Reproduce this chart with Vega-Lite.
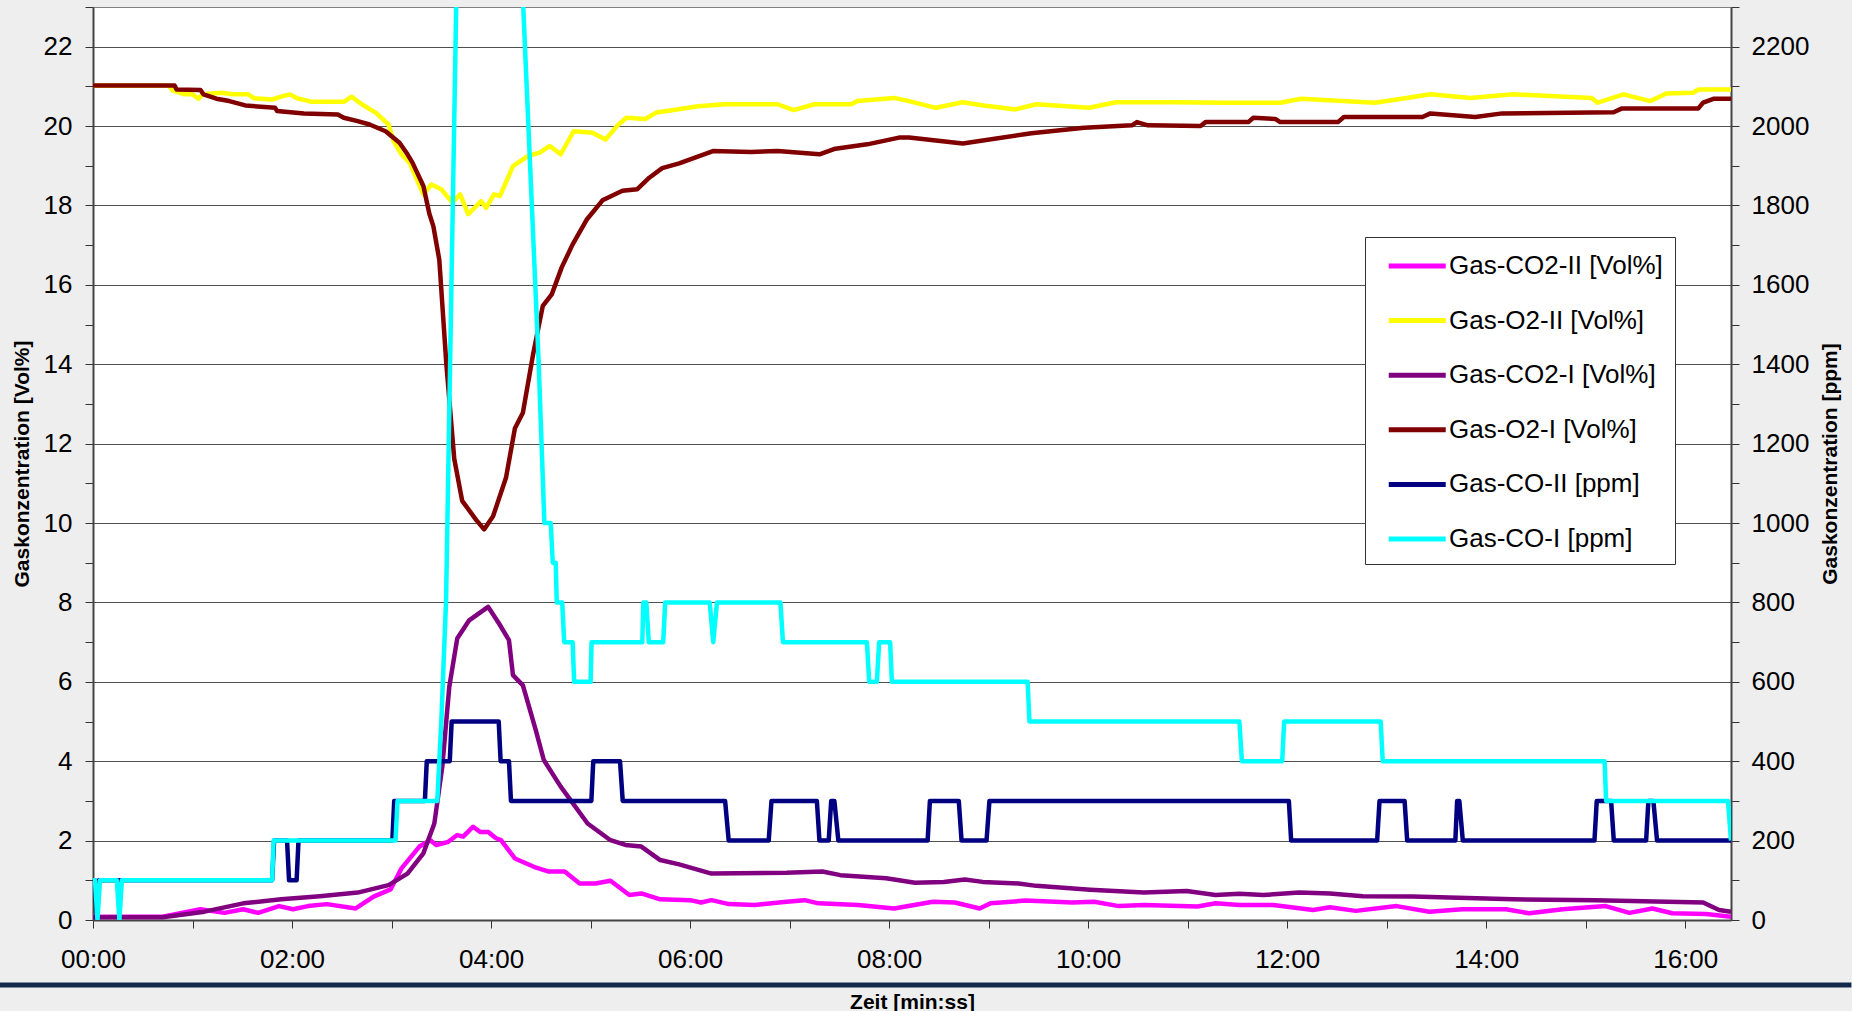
{
  "$schema": "https://vega.github.io/schema/vega-lite/v6.json",
  "width": 1638,
  "height": 913,
  "autosize": {"type": "none"},
  "padding": {"left": 93, "top": 7, "right": 121, "bottom": 91},
  "background": "#eeeeee",
  "config": {
    "font": "Liberation Sans",
    "view": {"fill": "white", "stroke": "#808080", "strokeWidth": 1},
    "axis": {"labelFont": "Liberation Sans", "titleFont": "Liberation Sans", "labelColor": "black", "titleColor": "black", "tickColor": "#333333", "domainColor": "#444444", "domainWidth": 2, "labelFontSize": 26, "titleFontSize": 21, "titleFontWeight": "bold", "labelOverlap": false, "labelBound": false}
  },
  "datasets": {
    "vol": [
      {"t":0,"s":"Gas-CO2-II [Vol%]","v":0.08},{"t":0.7,"s":"Gas-CO2-II [Vol%]","v":0.08},{"t":1.08,"s":"Gas-CO2-II [Vol%]","v":0.27},{"t":1.32,"s":"Gas-CO2-II [Vol%]","v":0.18},{"t":1.51,"s":"Gas-CO2-II [Vol%]","v":0.27},{"t":1.66,"s":"Gas-CO2-II [Vol%]","v":0.18},{"t":1.87,"s":"Gas-CO2-II [Vol%]","v":0.35},{"t":2.01,"s":"Gas-CO2-II [Vol%]","v":0.27},{"t":2.16,"s":"Gas-CO2-II [Vol%]","v":0.35},{"t":2.35,"s":"Gas-CO2-II [Vol%]","v":0.4},{"t":2.64,"s":"Gas-CO2-II [Vol%]","v":0.29},{"t":2.82,"s":"Gas-CO2-II [Vol%]","v":0.59},{"t":2.99,"s":"Gas-CO2-II [Vol%]","v":0.77},{"t":3.1,"s":"Gas-CO2-II [Vol%]","v":1.3},{"t":3.28,"s":"Gas-CO2-II [Vol%]","v":1.85},{"t":3.39,"s":"Gas-CO2-II [Vol%]","v":2.01},{"t":3.45,"s":"Gas-CO2-II [Vol%]","v":1.89},{"t":3.57,"s":"Gas-CO2-II [Vol%]","v":1.97},{"t":3.66,"s":"Gas-CO2-II [Vol%]","v":2.14},{"t":3.72,"s":"Gas-CO2-II [Vol%]","v":2.1},{"t":3.82,"s":"Gas-CO2-II [Vol%]","v":2.35},{"t":3.89,"s":"Gas-CO2-II [Vol%]","v":2.22},{"t":3.97,"s":"Gas-CO2-II [Vol%]","v":2.22},{"t":4.05,"s":"Gas-CO2-II [Vol%]","v":2.06},{"t":4.1,"s":"Gas-CO2-II [Vol%]","v":2.01},{"t":4.24,"s":"Gas-CO2-II [Vol%]","v":1.55},{"t":4.43,"s":"Gas-CO2-II [Vol%]","v":1.34},{"t":4.58,"s":"Gas-CO2-II [Vol%]","v":1.22},{"t":4.74,"s":"Gas-CO2-II [Vol%]","v":1.22},{"t":4.89,"s":"Gas-CO2-II [Vol%]","v":0.92},{"t":5.05,"s":"Gas-CO2-II [Vol%]","v":0.92},{"t":5.2,"s":"Gas-CO2-II [Vol%]","v":0.99},{"t":5.39,"s":"Gas-CO2-II [Vol%]","v":0.63},{"t":5.51,"s":"Gas-CO2-II [Vol%]","v":0.67},{"t":5.7,"s":"Gas-CO2-II [Vol%]","v":0.52},{"t":6.0,"s":"Gas-CO2-II [Vol%]","v":0.5},{"t":6.11,"s":"Gas-CO2-II [Vol%]","v":0.44},{"t":6.215,"s":"Gas-CO2-II [Vol%]","v":0.5},{"t":6.39,"s":"Gas-CO2-II [Vol%]","v":0.4},{"t":6.65,"s":"Gas-CO2-II [Vol%]","v":0.38},{"t":6.97,"s":"Gas-CO2-II [Vol%]","v":0.46},{"t":7.15,"s":"Gas-CO2-II [Vol%]","v":0.5},{"t":7.29,"s":"Gas-CO2-II [Vol%]","v":0.42},{"t":7.69,"s":"Gas-CO2-II [Vol%]","v":0.38},{"t":8.05,"s":"Gas-CO2-II [Vol%]","v":0.29},{"t":8.44,"s":"Gas-CO2-II [Vol%]","v":0.46},{"t":8.66,"s":"Gas-CO2-II [Vol%]","v":0.44},{"t":8.91,"s":"Gas-CO2-II [Vol%]","v":0.29},{"t":9.02,"s":"Gas-CO2-II [Vol%]","v":0.42},{"t":9.37,"s":"Gas-CO2-II [Vol%]","v":0.49},{"t":9.84,"s":"Gas-CO2-II [Vol%]","v":0.44},{"t":10.06,"s":"Gas-CO2-II [Vol%]","v":0.46},{"t":10.31,"s":"Gas-CO2-II [Vol%]","v":0.35},{"t":10.56,"s":"Gas-CO2-II [Vol%]","v":0.38},{"t":11.1,"s":"Gas-CO2-II [Vol%]","v":0.34},{"t":11.28,"s":"Gas-CO2-II [Vol%]","v":0.42},{"t":11.52,"s":"Gas-CO2-II [Vol%]","v":0.38},{"t":11.86,"s":"Gas-CO2-II [Vol%]","v":0.38},{"t":12.26,"s":"Gas-CO2-II [Vol%]","v":0.25},{"t":12.43,"s":"Gas-CO2-II [Vol%]","v":0.32},{"t":12.69,"s":"Gas-CO2-II [Vol%]","v":0.23},{"t":13.1,"s":"Gas-CO2-II [Vol%]","v":0.35},{"t":13.43,"s":"Gas-CO2-II [Vol%]","v":0.21},{"t":13.76,"s":"Gas-CO2-II [Vol%]","v":0.27},{"t":14.2,"s":"Gas-CO2-II [Vol%]","v":0.27},{"t":14.43,"s":"Gas-CO2-II [Vol%]","v":0.17},{"t":14.77,"s":"Gas-CO2-II [Vol%]","v":0.27},{"t":15.2,"s":"Gas-CO2-II [Vol%]","v":0.35},{"t":15.44,"s":"Gas-CO2-II [Vol%]","v":0.18},{"t":15.67,"s":"Gas-CO2-II [Vol%]","v":0.29},{"t":15.87,"s":"Gas-CO2-II [Vol%]","v":0.17},{"t":16.21,"s":"Gas-CO2-II [Vol%]","v":0.15},{"t":16.46,"s":"Gas-CO2-II [Vol%]","v":0.08},

      {"t":0,"s":"Gas-O2-II [Vol%]","v":21.02},{"t":0.76,"s":"Gas-O2-II [Vol%]","v":21.02},{"t":0.8,"s":"Gas-O2-II [Vol%]","v":20.9},{"t":0.92,"s":"Gas-O2-II [Vol%]","v":20.8},{"t":1.0,"s":"Gas-O2-II [Vol%]","v":20.8},{"t":1.06,"s":"Gas-O2-II [Vol%]","v":20.69},{"t":1.1,"s":"Gas-O2-II [Vol%]","v":20.8},{"t":1.29,"s":"Gas-O2-II [Vol%]","v":20.84},{"t":1.4,"s":"Gas-O2-II [Vol%]","v":20.8},{"t":1.56,"s":"Gas-O2-II [Vol%]","v":20.8},{"t":1.62,"s":"Gas-O2-II [Vol%]","v":20.7},{"t":1.8,"s":"Gas-O2-II [Vol%]","v":20.67},{"t":1.9,"s":"Gas-O2-II [Vol%]","v":20.75},{"t":1.98,"s":"Gas-O2-II [Vol%]","v":20.8},{"t":2.05,"s":"Gas-O2-II [Vol%]","v":20.7},{"t":2.2,"s":"Gas-O2-II [Vol%]","v":20.61},{"t":2.52,"s":"Gas-O2-II [Vol%]","v":20.61},{"t":2.6,"s":"Gas-O2-II [Vol%]","v":20.74},{"t":2.7,"s":"Gas-O2-II [Vol%]","v":20.55},{"t":2.84,"s":"Gas-O2-II [Vol%]","v":20.34},{"t":2.97,"s":"Gas-O2-II [Vol%]","v":20.04},{"t":3.02,"s":"Gas-O2-II [Vol%]","v":19.62},{"t":3.1,"s":"Gas-O2-II [Vol%]","v":19.29},{"t":3.18,"s":"Gas-O2-II [Vol%]","v":19.08},{"t":3.24,"s":"Gas-O2-II [Vol%]","v":18.74},{"t":3.32,"s":"Gas-O2-II [Vol%]","v":18.28},{"t":3.4,"s":"Gas-O2-II [Vol%]","v":18.53},{"t":3.5,"s":"Gas-O2-II [Vol%]","v":18.41},{"t":3.61,"s":"Gas-O2-II [Vol%]","v":18.07},{"t":3.69,"s":"Gas-O2-II [Vol%]","v":18.28},{"t":3.77,"s":"Gas-O2-II [Vol%]","v":17.78},{"t":3.9,"s":"Gas-O2-II [Vol%]","v":18.11},{"t":3.95,"s":"Gas-O2-II [Vol%]","v":17.94},{"t":4.03,"s":"Gas-O2-II [Vol%]","v":18.28},{"t":4.09,"s":"Gas-O2-II [Vol%]","v":18.24},{"t":4.22,"s":"Gas-O2-II [Vol%]","v":18.99},{"t":4.38,"s":"Gas-O2-II [Vol%]","v":19.26},{"t":4.49,"s":"Gas-O2-II [Vol%]","v":19.33},{"t":4.59,"s":"Gas-O2-II [Vol%]","v":19.5},{"t":4.7,"s":"Gas-O2-II [Vol%]","v":19.29},{"t":4.83,"s":"Gas-O2-II [Vol%]","v":19.87},{"t":5.02,"s":"Gas-O2-II [Vol%]","v":19.83},{"t":5.15,"s":"Gas-O2-II [Vol%]","v":19.66},{"t":5.28,"s":"Gas-O2-II [Vol%]","v":20.04},{"t":5.36,"s":"Gas-O2-II [Vol%]","v":20.21},{"t":5.55,"s":"Gas-O2-II [Vol%]","v":20.18},{"t":5.66,"s":"Gas-O2-II [Vol%]","v":20.34},{"t":5.82,"s":"Gas-O2-II [Vol%]","v":20.4},{"t":6.08,"s":"Gas-O2-II [Vol%]","v":20.5},{"t":6.35,"s":"Gas-O2-II [Vol%]","v":20.55},{"t":6.88,"s":"Gas-O2-II [Vol%]","v":20.55},{"t":7.04,"s":"Gas-O2-II [Vol%]","v":20.4},{"t":7.25,"s":"Gas-O2-II [Vol%]","v":20.55},{"t":7.62,"s":"Gas-O2-II [Vol%]","v":20.55},{"t":7.68,"s":"Gas-O2-II [Vol%]","v":20.63},{"t":8.05,"s":"Gas-O2-II [Vol%]","v":20.71},{"t":8.2,"s":"Gas-O2-II [Vol%]","v":20.63},{"t":8.47,"s":"Gas-O2-II [Vol%]","v":20.46},{"t":8.74,"s":"Gas-O2-II [Vol%]","v":20.6},{"t":8.95,"s":"Gas-O2-II [Vol%]","v":20.52},{"t":9.27,"s":"Gas-O2-II [Vol%]","v":20.42},{"t":9.48,"s":"Gas-O2-II [Vol%]","v":20.55},{"t":10.01,"s":"Gas-O2-II [Vol%]","v":20.46},{"t":10.28,"s":"Gas-O2-II [Vol%]","v":20.6},{"t":10.86,"s":"Gas-O2-II [Vol%]","v":20.6},{"t":11.4,"s":"Gas-O2-II [Vol%]","v":20.59},{"t":11.93,"s":"Gas-O2-II [Vol%]","v":20.59},{"t":12.14,"s":"Gas-O2-II [Vol%]","v":20.69},{"t":12.88,"s":"Gas-O2-II [Vol%]","v":20.59},{"t":13.2,"s":"Gas-O2-II [Vol%]","v":20.71},{"t":13.44,"s":"Gas-O2-II [Vol%]","v":20.8},{"t":13.84,"s":"Gas-O2-II [Vol%]","v":20.71},{"t":14.27,"s":"Gas-O2-II [Vol%]","v":20.8},{"t":15.06,"s":"Gas-O2-II [Vol%]","v":20.71},{"t":15.12,"s":"Gas-O2-II [Vol%]","v":20.59},{"t":15.38,"s":"Gas-O2-II [Vol%]","v":20.8},{"t":15.65,"s":"Gas-O2-II [Vol%]","v":20.63},{"t":15.81,"s":"Gas-O2-II [Vol%]","v":20.82},{"t":16.08,"s":"Gas-O2-II [Vol%]","v":20.84},{"t":16.13,"s":"Gas-O2-II [Vol%]","v":20.92},{"t":16.46,"s":"Gas-O2-II [Vol%]","v":20.92},

      {"t":0,"s":"Gas-CO2-I [Vol%]","v":0.07},{"t":0.7,"s":"Gas-CO2-I [Vol%]","v":0.07},{"t":1.12,"s":"Gas-CO2-I [Vol%]","v":0.21},{"t":1.51,"s":"Gas-CO2-I [Vol%]","v":0.42},{"t":1.89,"s":"Gas-CO2-I [Vol%]","v":0.52},{"t":2.28,"s":"Gas-CO2-I [Vol%]","v":0.6},{"t":2.66,"s":"Gas-CO2-I [Vol%]","v":0.69},{"t":2.97,"s":"Gas-CO2-I [Vol%]","v":0.88},{"t":3.16,"s":"Gas-CO2-I [Vol%]","v":1.17},{"t":3.32,"s":"Gas-CO2-I [Vol%]","v":1.68},{"t":3.43,"s":"Gas-CO2-I [Vol%]","v":2.43},{"t":3.51,"s":"Gas-CO2-I [Vol%]","v":3.86},{"t":3.58,"s":"Gas-CO2-I [Vol%]","v":5.87},{"t":3.66,"s":"Gas-CO2-I [Vol%]","v":7.09},{"t":3.78,"s":"Gas-CO2-I [Vol%]","v":7.55},{"t":3.97,"s":"Gas-CO2-I [Vol%]","v":7.89},{"t":4.08,"s":"Gas-CO2-I [Vol%]","v":7.47},{"t":4.18,"s":"Gas-CO2-I [Vol%]","v":7.05},{"t":4.22,"s":"Gas-CO2-I [Vol%]","v":6.17},{"t":4.32,"s":"Gas-CO2-I [Vol%]","v":5.91},{"t":4.45,"s":"Gas-CO2-I [Vol%]","v":4.78},{"t":4.53,"s":"Gas-CO2-I [Vol%]","v":4.03},{"t":4.7,"s":"Gas-CO2-I [Vol%]","v":3.36},{"t":4.97,"s":"Gas-CO2-I [Vol%]","v":2.43},{"t":5.2,"s":"Gas-CO2-I [Vol%]","v":2.01},{"t":5.35,"s":"Gas-CO2-I [Vol%]","v":1.89},{"t":5.51,"s":"Gas-CO2-I [Vol%]","v":1.85},{"t":5.7,"s":"Gas-CO2-I [Vol%]","v":1.51},{"t":5.89,"s":"Gas-CO2-I [Vol%]","v":1.4},{"t":6.215,"s":"Gas-CO2-I [Vol%]","v":1.17},{"t":6.97,"s":"Gas-CO2-I [Vol%]","v":1.19},{"t":7.33,"s":"Gas-CO2-I [Vol%]","v":1.22},{"t":7.51,"s":"Gas-CO2-I [Vol%]","v":1.13},{"t":7.97,"s":"Gas-CO2-I [Vol%]","v":1.05},{"t":8.26,"s":"Gas-CO2-I [Vol%]","v":0.94},{"t":8.55,"s":"Gas-CO2-I [Vol%]","v":0.96},{"t":8.76,"s":"Gas-CO2-I [Vol%]","v":1.02},{"t":8.94,"s":"Gas-CO2-I [Vol%]","v":0.96},{"t":9.3,"s":"Gas-CO2-I [Vol%]","v":0.92},{"t":9.48,"s":"Gas-CO2-I [Vol%]","v":0.86},{"t":10.02,"s":"Gas-CO2-I [Vol%]","v":0.76},{"t":10.56,"s":"Gas-CO2-I [Vol%]","v":0.69},{"t":10.99,"s":"Gas-CO2-I [Vol%]","v":0.73},{"t":11.28,"s":"Gas-CO2-I [Vol%]","v":0.63},{"t":11.52,"s":"Gas-CO2-I [Vol%]","v":0.66},{"t":11.76,"s":"Gas-CO2-I [Vol%]","v":0.63},{"t":12.12,"s":"Gas-CO2-I [Vol%]","v":0.69},{"t":12.43,"s":"Gas-CO2-I [Vol%]","v":0.67},{"t":12.76,"s":"Gas-CO2-I [Vol%]","v":0.6},{"t":13.26,"s":"Gas-CO2-I [Vol%]","v":0.59},{"t":14.27,"s":"Gas-CO2-I [Vol%]","v":0.52},{"t":15.1,"s":"Gas-CO2-I [Vol%]","v":0.5},{"t":16.18,"s":"Gas-CO2-I [Vol%]","v":0.44},{"t":16.34,"s":"Gas-CO2-I [Vol%]","v":0.25},{"t":16.46,"s":"Gas-CO2-I [Vol%]","v":0.21},

      {"t":0,"s":"Gas-O2-I [Vol%]","v":21.02},{"t":0.82,"s":"Gas-O2-I [Vol%]","v":21.02},{"t":0.84,"s":"Gas-O2-I [Vol%]","v":20.92},{"t":1.08,"s":"Gas-O2-I [Vol%]","v":20.91},{"t":1.11,"s":"Gas-O2-I [Vol%]","v":20.8},{"t":1.24,"s":"Gas-O2-I [Vol%]","v":20.69},{"t":1.37,"s":"Gas-O2-I [Vol%]","v":20.63},{"t":1.53,"s":"Gas-O2-I [Vol%]","v":20.52},{"t":1.83,"s":"Gas-O2-I [Vol%]","v":20.46},{"t":1.85,"s":"Gas-O2-I [Vol%]","v":20.38},{"t":2.12,"s":"Gas-O2-I [Vol%]","v":20.32},{"t":2.46,"s":"Gas-O2-I [Vol%]","v":20.29},{"t":2.52,"s":"Gas-O2-I [Vol%]","v":20.21},{"t":2.65,"s":"Gas-O2-I [Vol%]","v":20.13},{"t":2.78,"s":"Gas-O2-I [Vol%]","v":20.04},{"t":2.94,"s":"Gas-O2-I [Vol%]","v":19.87},{"t":3.08,"s":"Gas-O2-I [Vol%]","v":19.58},{"t":3.15,"s":"Gas-O2-I [Vol%]","v":19.33},{"t":3.21,"s":"Gas-O2-I [Vol%]","v":19.08},{"t":3.32,"s":"Gas-O2-I [Vol%]","v":18.49},{"t":3.38,"s":"Gas-O2-I [Vol%]","v":17.79},{"t":3.42,"s":"Gas-O2-I [Vol%]","v":17.48},{"t":3.48,"s":"Gas-O2-I [Vol%]","v":16.63},{"t":3.55,"s":"Gas-O2-I [Vol%]","v":14.03},{"t":3.63,"s":"Gas-O2-I [Vol%]","v":11.62},{"t":3.71,"s":"Gas-O2-I [Vol%]","v":10.56},{"t":3.85,"s":"Gas-O2-I [Vol%]","v":10.08},{"t":3.93,"s":"Gas-O2-I [Vol%]","v":9.84},{"t":4.02,"s":"Gas-O2-I [Vol%]","v":10.17},{"t":4.15,"s":"Gas-O2-I [Vol%]","v":11.14},{"t":4.24,"s":"Gas-O2-I [Vol%]","v":12.39},{"t":4.32,"s":"Gas-O2-I [Vol%]","v":12.78},{"t":4.42,"s":"Gas-O2-I [Vol%]","v":14.22},{"t":4.52,"s":"Gas-O2-I [Vol%]","v":15.47},{"t":4.61,"s":"Gas-O2-I [Vol%]","v":15.76},{"t":4.71,"s":"Gas-O2-I [Vol%]","v":16.44},{"t":4.82,"s":"Gas-O2-I [Vol%]","v":17.02},{"t":4.96,"s":"Gas-O2-I [Vol%]","v":17.64},{"t":5.12,"s":"Gas-O2-I [Vol%]","v":18.13},{"t":5.32,"s":"Gas-O2-I [Vol%]","v":18.37},{"t":5.47,"s":"Gas-O2-I [Vol%]","v":18.41},{"t":5.59,"s":"Gas-O2-I [Vol%]","v":18.7},{"t":5.72,"s":"Gas-O2-I [Vol%]","v":18.94},{"t":5.89,"s":"Gas-O2-I [Vol%]","v":19.06},{"t":6.23,"s":"Gas-O2-I [Vol%]","v":19.37},{"t":6.61,"s":"Gas-O2-I [Vol%]","v":19.35},{"t":6.88,"s":"Gas-O2-I [Vol%]","v":19.37},{"t":7.3,"s":"Gas-O2-I [Vol%]","v":19.29},{"t":7.46,"s":"Gas-O2-I [Vol%]","v":19.43},{"t":7.78,"s":"Gas-O2-I [Vol%]","v":19.54},{"t":8.1,"s":"Gas-O2-I [Vol%]","v":19.71},{"t":8.2,"s":"Gas-O2-I [Vol%]","v":19.71},{"t":8.74,"s":"Gas-O2-I [Vol%]","v":19.56},{"t":9.43,"s":"Gas-O2-I [Vol%]","v":19.82},{"t":9.96,"s":"Gas-O2-I [Vol%]","v":19.96},{"t":10.44,"s":"Gas-O2-I [Vol%]","v":20.02},{"t":10.49,"s":"Gas-O2-I [Vol%]","v":20.1},{"t":10.6,"s":"Gas-O2-I [Vol%]","v":20.02},{"t":11.13,"s":"Gas-O2-I [Vol%]","v":20.0},{"t":11.18,"s":"Gas-O2-I [Vol%]","v":20.1},{"t":11.61,"s":"Gas-O2-I [Vol%]","v":20.1},{"t":11.66,"s":"Gas-O2-I [Vol%]","v":20.21},{"t":11.88,"s":"Gas-O2-I [Vol%]","v":20.18},{"t":11.93,"s":"Gas-O2-I [Vol%]","v":20.1},{"t":12.51,"s":"Gas-O2-I [Vol%]","v":20.1},{"t":12.57,"s":"Gas-O2-I [Vol%]","v":20.23},{"t":13.36,"s":"Gas-O2-I [Vol%]","v":20.23},{"t":13.44,"s":"Gas-O2-I [Vol%]","v":20.32},{"t":13.89,"s":"Gas-O2-I [Vol%]","v":20.23},{"t":14.16,"s":"Gas-O2-I [Vol%]","v":20.32},{"t":15.28,"s":"Gas-O2-I [Vol%]","v":20.35},{"t":15.36,"s":"Gas-O2-I [Vol%]","v":20.44},{"t":16.13,"s":"Gas-O2-I [Vol%]","v":20.44},{"t":16.18,"s":"Gas-O2-I [Vol%]","v":20.59},{"t":16.29,"s":"Gas-O2-I [Vol%]","v":20.69},{"t":16.46,"s":"Gas-O2-I [Vol%]","v":20.69}
    ],
    "ppm": [
      {"t":0,"s":"Gas-CO-II [ppm]","v":100},{"t":0.02,"s":"Gas-CO-II [ppm]","v":100},{"t":0.04,"s":"Gas-CO-II [ppm]","v":0},{"t":0.06,"s":"Gas-CO-II [ppm]","v":100},{"t":1.8,"s":"Gas-CO-II [ppm]","v":100},{"t":1.82,"s":"Gas-CO-II [ppm]","v":200},{"t":1.95,"s":"Gas-CO-II [ppm]","v":200},{"t":1.97,"s":"Gas-CO-II [ppm]","v":100},{"t":2.046,"s":"Gas-CO-II [ppm]","v":100},{"t":2.065,"s":"Gas-CO-II [ppm]","v":200},{"t":3.008,"s":"Gas-CO-II [ppm]","v":200},{"t":3.027,"s":"Gas-CO-II [ppm]","v":300},{"t":3.335,"s":"Gas-CO-II [ppm]","v":300},{"t":3.354,"s":"Gas-CO-II [ppm]","v":400},{"t":3.585,"s":"Gas-CO-II [ppm]","v":400},{"t":3.604,"s":"Gas-CO-II [ppm]","v":500},{"t":4.077,"s":"Gas-CO-II [ppm]","v":500},{"t":4.096,"s":"Gas-CO-II [ppm]","v":400},{"t":4.18,"s":"Gas-CO-II [ppm]","v":400},{"t":4.2,"s":"Gas-CO-II [ppm]","v":300},{"t":5.008,"s":"Gas-CO-II [ppm]","v":300},{"t":5.027,"s":"Gas-CO-II [ppm]","v":400},{"t":5.296,"s":"Gas-CO-II [ppm]","v":400},{"t":5.323,"s":"Gas-CO-II [ppm]","v":300},{"t":6.352,"s":"Gas-CO-II [ppm]","v":300},{"t":6.388,"s":"Gas-CO-II [ppm]","v":200},{"t":6.79,"s":"Gas-CO-II [ppm]","v":200},{"t":6.818,"s":"Gas-CO-II [ppm]","v":300},{"t":7.274,"s":"Gas-CO-II [ppm]","v":300},{"t":7.3,"s":"Gas-CO-II [ppm]","v":200},{"t":7.393,"s":"Gas-CO-II [ppm]","v":200},{"t":7.418,"s":"Gas-CO-II [ppm]","v":300},{"t":7.45,"s":"Gas-CO-II [ppm]","v":300},{"t":7.49,"s":"Gas-CO-II [ppm]","v":200},{"t":8.387,"s":"Gas-CO-II [ppm]","v":200},{"t":8.41,"s":"Gas-CO-II [ppm]","v":300},{"t":8.7,"s":"Gas-CO-II [ppm]","v":300},{"t":8.728,"s":"Gas-CO-II [ppm]","v":200},{"t":8.979,"s":"Gas-CO-II [ppm]","v":200},{"t":9.008,"s":"Gas-CO-II [ppm]","v":300},{"t":12.017,"s":"Gas-CO-II [ppm]","v":300},{"t":12.04,"s":"Gas-CO-II [ppm]","v":200},{"t":12.904,"s":"Gas-CO-II [ppm]","v":200},{"t":12.928,"s":"Gas-CO-II [ppm]","v":300},{"t":13.18,"s":"Gas-CO-II [ppm]","v":300},{"t":13.206,"s":"Gas-CO-II [ppm]","v":200},{"t":13.69,"s":"Gas-CO-II [ppm]","v":200},{"t":13.708,"s":"Gas-CO-II [ppm]","v":300},{"t":13.73,"s":"Gas-CO-II [ppm]","v":300},{"t":13.765,"s":"Gas-CO-II [ppm]","v":200},{"t":15.088,"s":"Gas-CO-II [ppm]","v":200},{"t":15.111,"s":"Gas-CO-II [ppm]","v":300},{"t":15.255,"s":"Gas-CO-II [ppm]","v":300},{"t":15.282,"s":"Gas-CO-II [ppm]","v":200},{"t":15.607,"s":"Gas-CO-II [ppm]","v":200},{"t":15.63,"s":"Gas-CO-II [ppm]","v":300},{"t":15.68,"s":"Gas-CO-II [ppm]","v":300},{"t":15.717,"s":"Gas-CO-II [ppm]","v":200},{"t":16.46,"s":"Gas-CO-II [ppm]","v":200},

      {"t":0,"s":"Gas-CO-I [ppm]","v":100},{"t":0.02,"s":"Gas-CO-I [ppm]","v":100},{"t":0.045,"s":"Gas-CO-I [ppm]","v":0},{"t":0.07,"s":"Gas-CO-I [ppm]","v":100},{"t":0.24,"s":"Gas-CO-I [ppm]","v":100},{"t":0.265,"s":"Gas-CO-I [ppm]","v":0},{"t":0.29,"s":"Gas-CO-I [ppm]","v":100},{"t":1.8,"s":"Gas-CO-I [ppm]","v":100},{"t":1.815,"s":"Gas-CO-I [ppm]","v":200},{"t":3.04,"s":"Gas-CO-I [ppm]","v":200},{"t":3.06,"s":"Gas-CO-I [ppm]","v":300},{"t":3.46,"s":"Gas-CO-I [ppm]","v":300},{"t":3.5,"s":"Gas-CO-I [ppm]","v":500},{"t":3.548,"s":"Gas-CO-I [ppm]","v":806},{"t":3.84,"s":"Gas-CO-I [ppm]","v":5100},{"t":4.479,"s":"Gas-CO-I [ppm]","v":1400},{"t":4.536,"s":"Gas-CO-I [ppm]","v":1000},{"t":4.6,"s":"Gas-CO-I [ppm]","v":1000},{"t":4.62,"s":"Gas-CO-I [ppm]","v":900},{"t":4.65,"s":"Gas-CO-I [ppm]","v":900},{"t":4.66,"s":"Gas-CO-I [ppm]","v":800},{"t":4.715,"s":"Gas-CO-I [ppm]","v":800},{"t":4.735,"s":"Gas-CO-I [ppm]","v":700},{"t":4.82,"s":"Gas-CO-I [ppm]","v":700},{"t":4.835,"s":"Gas-CO-I [ppm]","v":600},{"t":5.0,"s":"Gas-CO-I [ppm]","v":600},{"t":5.01,"s":"Gas-CO-I [ppm]","v":700},{"t":5.52,"s":"Gas-CO-I [ppm]","v":700},{"t":5.53,"s":"Gas-CO-I [ppm]","v":800},{"t":5.56,"s":"Gas-CO-I [ppm]","v":800},{"t":5.585,"s":"Gas-CO-I [ppm]","v":700},{"t":5.73,"s":"Gas-CO-I [ppm]","v":700},{"t":5.75,"s":"Gas-CO-I [ppm]","v":800},{"t":6.197,"s":"Gas-CO-I [ppm]","v":800},{"t":6.233,"s":"Gas-CO-I [ppm]","v":700},{"t":6.27,"s":"Gas-CO-I [ppm]","v":800},{"t":6.908,"s":"Gas-CO-I [ppm]","v":800},{"t":6.933,"s":"Gas-CO-I [ppm]","v":700},{"t":7.777,"s":"Gas-CO-I [ppm]","v":700},{"t":7.8,"s":"Gas-CO-I [ppm]","v":600},{"t":7.877,"s":"Gas-CO-I [ppm]","v":600},{"t":7.9,"s":"Gas-CO-I [ppm]","v":700},{"t":8.01,"s":"Gas-CO-I [ppm]","v":700},{"t":8.028,"s":"Gas-CO-I [ppm]","v":600},{"t":9.392,"s":"Gas-CO-I [ppm]","v":600},{"t":9.41,"s":"Gas-CO-I [ppm]","v":500},{"t":11.52,"s":"Gas-CO-I [ppm]","v":500},{"t":11.545,"s":"Gas-CO-I [ppm]","v":400},{"t":11.95,"s":"Gas-CO-I [ppm]","v":400},{"t":11.97,"s":"Gas-CO-I [ppm]","v":500},{"t":12.94,"s":"Gas-CO-I [ppm]","v":500},{"t":12.96,"s":"Gas-CO-I [ppm]","v":400},{"t":15.19,"s":"Gas-CO-I [ppm]","v":400},{"t":15.205,"s":"Gas-CO-I [ppm]","v":300},{"t":16.43,"s":"Gas-CO-I [ppm]","v":300},{"t":16.46,"s":"Gas-CO-I [ppm]","v":200}
    ]
  },
  "layer": [
    {
      "data": {"name": "vol"},
      "mark": {"type": "line", "strokeWidth": 4.5, "strokeJoin": "round", "clip": true},
      "encoding": {
        "x": {"field": "t", "type": "quantitative", "scale": {"domain": [0, 16.46], "nice": false, "zero": false},
          "axis": {"title": "Zeit [min:ss]", "values": [0,1,2,3,4,5,6,7,8,9,10,11,12,13,14,15,16], "labelExpr": "datum.value % 2 == 0 ? (datum.value < 10 ? '0' : '') + datum.value + ':00' : ''", "grid": false, "tickSize": 8, "labelPadding": 18, "labelFlush": false, "titleBaseline": "alphabetic", "titleY": 88}},
        "y": {"field": "v", "type": "quantitative", "scale": {"domain": [0, 23], "nice": false, "zero": false},
          "axis": {"title": "Gaskonzentration [Vol%]", "values": [0,1,2,3,4,5,6,7,8,9,10,11,12,13,14,15,16,17,18,19,20,21,22,23], "labelExpr": "datum.value % 2 == 0 ? datum.label : ''", "grid": true, "gridColor": "#505050", "gridWidth": 1, "gridOpacity": {"condition": {"test": "datum.value % 2 == 0 && datum.value > 0 && datum.value < 23", "value": 1}, "value": 0}, "tickSize": 8, "labelPadding": 13, "titleBaseline": "alphabetic", "titleX": -65}},
        "color": {"field": "s", "type": "nominal",
          "scale": {"domain": ["Gas-CO2-II [Vol%]", "Gas-O2-II [Vol%]", "Gas-CO2-I [Vol%]", "Gas-O2-I [Vol%]", "Gas-CO-II [ppm]", "Gas-CO-I [ppm]"], "range": ["#ff00ff", "#ffff00", "#800080", "#800000", "#000080", "#00ffff"]},
          "legend": {"orient": "none", "legendX": 1272, "legendY": 230, "title": null, "symbolType": "M-1,0H3", "symbolSize": 812, "symbolStrokeWidth": 5, "labelFontSize": 26, "labelFont": "Liberation Sans", "labelColor": "black", "labelLimit": 500, "labelOffset": 29, "symbolOffset": 9, "rowPadding": 24.6, "padding": 12, "strokeColor": "#333333", "fillColor": "white"}}
      }
    },
    {
      "data": {"name": "ppm"},
      "mark": {"type": "line", "strokeWidth": 4.5, "strokeJoin": "round", "clip": true},
      "encoding": {
        "x": {"field": "t", "type": "quantitative", "scale": {"domain": [0, 16.46], "nice": false, "zero": false},
          "axis": {"title": "Zeit [min:ss]", "values": [0,1,2,3,4,5,6,7,8,9,10,11,12,13,14,15,16], "labelExpr": "datum.value % 2 == 0 ? (datum.value < 10 ? '0' : '') + datum.value + ':00' : ''", "grid": false, "tickSize": 8, "labelPadding": 18, "labelFlush": false, "titleBaseline": "alphabetic", "titleY": 88}},
        "y": {"field": "v", "type": "quantitative", "scale": {"domain": [0, 2300], "nice": false, "zero": false},
          "axis": {"orient": "right", "title": "Gaskonzentration [ppm]", "values": [0,100,200,300,400,500,600,700,800,900,1000,1100,1200,1300,1400,1500,1600,1700,1800,1900,2000,2100,2200,2300], "format": "d", "labelExpr": "datum.value % 200 == 0 ? datum.label : ''", "grid": false, "tickSize": 8, "labelPadding": 12, "titleAngle": 270, "titleBaseline": "alphabetic", "titleX": 105}},
        "color": {"field": "s", "type": "nominal",
          "scale": {"domain": ["Gas-CO2-II [Vol%]", "Gas-O2-II [Vol%]", "Gas-CO2-I [Vol%]", "Gas-O2-I [Vol%]", "Gas-CO-II [ppm]", "Gas-CO-I [ppm]"], "range": ["#ff00ff", "#ffff00", "#800080", "#800000", "#000080", "#00ffff"]}}
      }
    },
    {
      "data": {"values": [{}]},
      "mark": {"type": "rule", "clip": false, "color": "#13294b", "strokeWidth": 5},
      "encoding": {
        "x": {"datum": -0.94, "type": "quantitative", "scale": {"domain": [0, 16.46], "nice": false, "zero": false},
          "axis": {"title": "Zeit [min:ss]", "values": [0,1,2,3,4,5,6,7,8,9,10,11,12,13,14,15,16], "labelExpr": "datum.value % 2 == 0 ? (datum.value < 10 ? '0' : '') + datum.value + ':00' : ''", "grid": false, "tickSize": 8, "labelPadding": 18, "labelFlush": false, "titleBaseline": "alphabetic", "titleY": 88}},
        "x2": {"datum": 17.67},
        "y": {"datum": -1.64, "type": "quantitative", "scale": {"domain": [0, 23], "nice": false, "zero": false}, "axis": null}
      }
    }
  ],
  "resolve": {"scale": {"y": "independent"}}
}
